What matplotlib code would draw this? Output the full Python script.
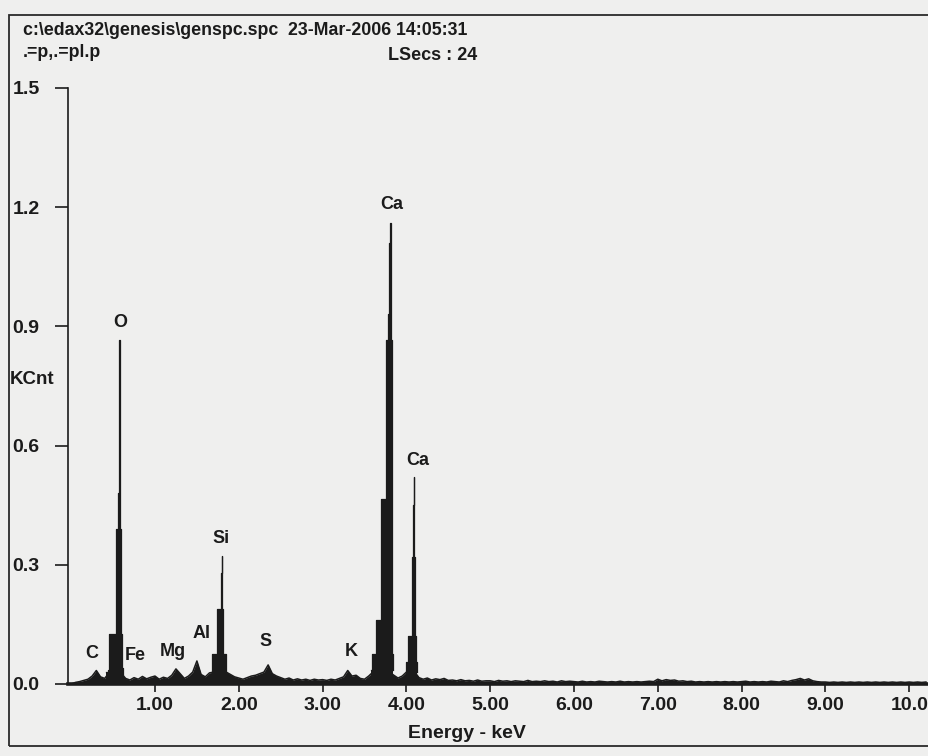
import numpy as np
import matplotlib
matplotlib.use("Agg")
import matplotlib.pyplot as plt
from matplotlib.patches import Rectangle

plt.rcParams['font.family'] = ['Liberation Sans', 'DejaVu Sans']
plt.rcParams['font.weight'] = 'bold'

# ---------------- texts ----------------
header_line1 = "c:\\edax32\\genesis\\genspc.spc  23-Mar-2006 14:05:31"
header_line2 = ".=p,.=pl.p"
live_secs = "LSecs : 24"
y_label = "KCnt"
x_label = "Energy - keV"

x_ticks = [1, 2, 3, 4, 5, 6, 7, 8, 9, 10]
x_tick_labels = ["1.00", "2.00", "3.00", "4.00", "5.00", "6.00", "7.00", "8.00", "9.00", "10.0"]
y_ticks = [0.0, 0.3, 0.6, 0.9, 1.2, 1.5]
y_tick_labels = ["0.0", "0.3", "0.6", "0.9", "1.2", "1.5"]

# ---------------- spectrum data (KCnt) ----------------
# background continuum, one value every 0.05 keV from 0.00 to 10.20 keV
bg_step = 0.05
bg_kcnt = [
    0.000, 0.004, 0.006, 0.009, 0.012, 0.020, 0.034, 0.018, 0.014, 0.028,
    0.030, 0.030, 0.026, 0.014, 0.010, 0.016, 0.012, 0.019, 0.013, 0.017,
    0.020, 0.012, 0.017, 0.014, 0.022, 0.038, 0.026, 0.014, 0.020, 0.030,
    0.058, 0.024, 0.018, 0.028, 0.030, 0.030, 0.030, 0.030, 0.024, 0.018,
    0.015, 0.012, 0.016, 0.020, 0.022, 0.026, 0.030, 0.048, 0.026, 0.020,
    0.016, 0.012, 0.015, 0.010, 0.013, 0.010, 0.012, 0.009, 0.012, 0.010,
    0.011, 0.009, 0.012, 0.010, 0.014, 0.018, 0.034, 0.020, 0.022, 0.014,
    0.012, 0.020, 0.030, 0.030, 0.030, 0.030, 0.030, 0.022, 0.015, 0.020,
    0.030, 0.030, 0.030, 0.016, 0.012, 0.015, 0.010, 0.013, 0.011, 0.014,
    0.009, 0.010, 0.008, 0.011, 0.008, 0.009, 0.007, 0.010, 0.007, 0.008,
    0.008, 0.006, 0.009, 0.007, 0.008, 0.006, 0.008, 0.007, 0.006, 0.009,
    0.006, 0.007, 0.006, 0.008, 0.006, 0.007, 0.005, 0.008, 0.006, 0.007,
    0.006, 0.005, 0.007, 0.005, 0.006, 0.005, 0.007, 0.006, 0.005, 0.006,
    0.005, 0.007, 0.005, 0.006, 0.005, 0.006, 0.005, 0.006, 0.007, 0.006,
    0.012, 0.008, 0.011, 0.009, 0.010, 0.007, 0.008, 0.006, 0.007, 0.005,
    0.006, 0.005, 0.006, 0.005, 0.006, 0.005, 0.006, 0.005, 0.006, 0.005,
    0.006, 0.007, 0.005, 0.006, 0.005, 0.006, 0.005, 0.007, 0.006, 0.005,
    0.008, 0.006, 0.009, 0.011, 0.014, 0.010, 0.013, 0.008, 0.006, 0.005,
    0.005, 0.004, 0.005, 0.004, 0.005, 0.004, 0.005, 0.004, 0.005, 0.004,
    0.005, 0.004, 0.005, 0.004, 0.005, 0.004, 0.005, 0.004, 0.005, 0.004,
    0.005, 0.004, 0.005, 0.004, 0.005,
]

# peak channels, 0.01 keV apart, starting energy given
channel_width = 0.01
o_start = 0.42
o_kcnt = [0.030, 0.030, 0.030, 0.035, 0.126, 0.126, 0.126, 0.126, 0.126, 0.126,
          0.126, 0.126, 0.390, 0.390, 0.480, 0.700, 0.866, 0.390, 0.126, 0.040, 0.020]
si_start = 1.68
si_kcnt = [0.030, 0.075, 0.075, 0.075, 0.075, 0.075, 0.075, 0.190, 0.190, 0.190,
           0.190, 0.280, 0.323, 0.190, 0.075, 0.075, 0.075, 0.030]
ca_ka_start = 3.58
ca_ka_kcnt = [0.035, 0.050, 0.075, 0.075, 0.075, 0.075, 0.160, 0.160, 0.160, 0.160,
              0.160, 0.160, 0.465, 0.465, 0.465, 0.465, 0.465, 0.465, 0.865, 0.865,
              0.865, 0.930, 1.110, 1.160, 0.865, 0.075, 0.035]
ca_kb_start = 3.99
ca_kb_kcnt = [0.030, 0.055, 0.055, 0.055, 0.120, 0.120, 0.120, 0.120, 0.320, 0.450,
              0.520, 0.320, 0.120, 0.055, 0.030]

# element labels
peak_labels = ["C", "O", "Fe", "Mg", "Al", "Si", "S", "K", "Ca", "Ca"]
label_keV = [0.25, 0.58, 0.77, 1.21, 1.55, 1.79, 2.32, 3.34, 3.83, 4.13]
label_kcnt = [0.078, 0.910, 0.071, 0.083, 0.126, 0.366, 0.106, 0.083, 1.207, 0.563]

# ---------------- drawing ----------------
W, H = 929, 756
bg_col = '#efefee'
ink = '#1b1b1b'

fig = plt.figure(figsize=(W / 100, H / 100), dpi=100, facecolor=bg_col)
ax_left, ax_right, ax_top, ax_bottom = 68, 929, 88, 684
ax = fig.add_axes([ax_left / W, 1 - ax_bottom / H, (ax_right - ax_left) / W, (ax_bottom - ax_top) / H])
ax.set_facecolor(bg_col)

bg_e = np.arange(len(bg_kcnt)) * bg_step
ax.fill_between(bg_e, bg_kcnt, 0, color=ink, lw=0, zorder=2)
ax.plot(bg_e, bg_kcnt, color=ink, lw=1.1, zorder=2)

for start, vals in [(o_start, o_kcnt), (si_start, si_kcnt),
                    (ca_ka_start, ca_ka_kcnt), (ca_kb_start, ca_kb_kcnt)]:
    e = start + np.arange(len(vals)) * channel_width
    ax.fill_between(e, vals, 0, step='mid', color=ink, lw=0, zorder=3)
    ax.step(e, vals, where='mid', color=ink, lw=0.9, zorder=3)

for lbl, x, y in zip(peak_labels, label_keV, label_kcnt):
    ax.text(x, y, lbl, ha='center', va='center', fontsize=13, color=ink, fontweight='bold')

ax.set_xlim((ax_left - 71.2) / 83.8, (ax_right - 71.2) / 83.8)
ax.set_ylim(0, 1.5)

for s in ['top', 'right']:
    ax.spines[s].set_visible(False)
ax.spines['left'].set_linewidth(1.2)
ax.spines['left'].set_color(ink)
ax.spines['bottom'].set_linewidth(2.6)
ax.spines['bottom'].set_color(ink)

ax.set_xticks(x_ticks)
ax.set_xticklabels(x_tick_labels, fontsize=14, fontweight='bold', color=ink)
ax.set_yticks(y_ticks)
ax.set_yticklabels(y_tick_labels, fontsize=14, fontweight='bold', color=ink)
ax.tick_params(axis='x', direction='out', length=6, width=1.2, pad=3.5, color=ink)
ax.tick_params(axis='y', direction='out', length=9.4, width=1.2, pad=11, color=ink)

fig.text(10 / W, 1 - 380 / H, y_label, ha='left', va='center', fontsize=13.5, color=ink, fontweight='bold')
fig.text(467 / W, 1 - 733 / H, x_label, ha='center', va='center', fontsize=14, color=ink, fontweight='bold')

fig.text(23 / W, 1 - 35 / H, header_line1, ha='left', va='baseline', fontsize=12.8, color=ink, fontweight='bold')
fig.text(23 / W, 1 - 57 / H, header_line2, ha='left', va='baseline', fontsize=12.8, color=ink, fontweight='bold')
fig.text(388 / W, 1 - 60 / H, live_secs, ha='left', va='baseline', fontsize=13, color=ink, fontweight='bold')

frame = Rectangle((9 / W, 1 - 746 / H), 1.05, (746 - 15) / H, transform=fig.transFigure,
                  fill=False, edgecolor='#2a2a2a', lw=1.3)
fig.add_artist(frame)

fig.savefig("out.png", dpi=100, facecolor=bg_col)
